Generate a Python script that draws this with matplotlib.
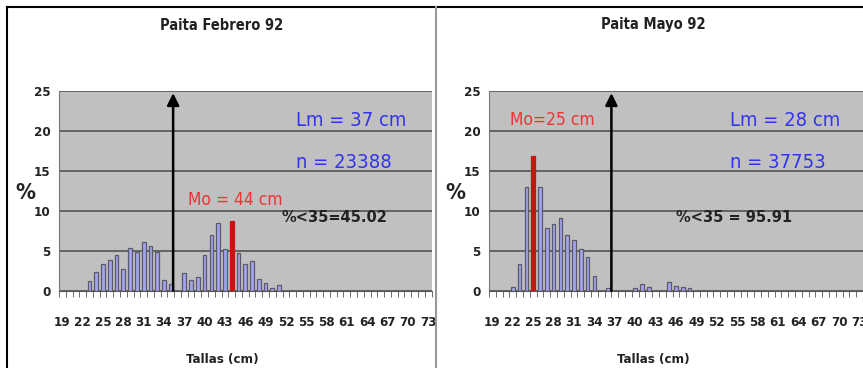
import numpy as np
import matplotlib
matplotlib.use("Agg")
import matplotlib.pyplot as plt
from matplotlib.lines import Line2D

# ─── DATA ──────────────────────────────────────────────────────────────
tallas = np.arange(19, 74)          # size classes (cm)
tick_labels = [str(t) for t in tallas[::3]]

# Paita Febrero 92 (% per size class)
feb_cls = [23, 24, 25, 26, 27, 28, 29, 30, 31, 32, 33, 34, 35,
           37, 38, 39, 40, 41, 42, 43, 44, 45, 46, 47, 48, 49, 50, 51]
feb_pct = [1.2, 2.3, 3.3, 3.8, 4.5, 2.75, 5.4, 4.9, 6.1, 5.6, 4.9, 1.3, 0.8,
           2.25, 1.3, 1.7, 4.5, 7.0, 8.5, 5.2, 8.75, 4.75, 3.3, 3.75, 1.5, 1.0, 0.4, 0.7]
feb_mode = 44

# Paita Mayo 92
may_cls = [22, 23, 24, 25, 26, 27, 28, 29, 30, 31, 32, 33, 34, 36,
           40, 41, 42, 45, 46, 47, 48]
may_pct = [0.5, 3.3, 13.0, 16.8, 13.0, 7.8, 8.3, 9.1, 7.0, 6.3, 5.25, 4.2, 1.8, 0.4,
           0.4, 0.9, 0.5, 1.1, 0.6, 0.5, 0.4]
may_mode = 25

panels = [
    dict(title="Paita Febrero 92", cls=feb_cls, pct=feb_pct, mode=feb_mode,
         arrow=35.35, lm="Lm = 37 cm", n="n = 23388", lm_xy=(53.5, 21.3), n_xy=(53.5, 16.0),
         mo="Mo = 44 cm", mo_xy=(37.6, 11.3), pc="%<35=45.02", pc_xy=(59.2, 9.2)),
    dict(title="Paita Mayo 92", cls=may_cls, pct=may_pct, mode=may_mode,
         arrow=36.5, lm="Lm = 28 cm", n="n = 37753", lm_xy=(53.9, 21.3), n_xy=(53.9, 16.0),
         mo="Mo=25 cm", mo_xy=(21.6, 21.3), pc="%<35 = 95.91", pc_xy=(54.5, 9.2)),
]

NARROW = dict(family="DejaVu Sans", stretch="condensed")
BAR_FC = "#a3a3ee"
BAR_EC = "#5a5a6a"
MODE_C = "#cc1111"
BLUE = "#3333ee"
RED = "#ee3333"
INK = "#222222"

fig = plt.figure(figsize=(8.63, 3.68), dpi=100)
W, H = 863, 368

def px_axes(x0, x1, ytop, ybot):
    return fig.add_axes([x0 / W, 1 - ybot / H, (x1 - x0) / W, (ybot - ytop) / H])

axes = [px_axes(59, 431.5, 90.7, 290.7), px_axes(489, 863, 90.7, 290.7)]
centers = [222, 653]

for ax, p, cx in zip(axes, panels, centers):
    ax.set_facecolor("#c0c0c0")
    ax.set_xlim(18.5, 73.5)
    ax.set_ylim(0, 25)
    ax.set_yticks([0, 5, 10, 15, 20, 25])
    ax.yaxis.grid(True, color="#4a4a4a", linewidth=1.1)
    ax.set_axisbelow(True)
    for s in ["top", "right"]:
        ax.spines[s].set_visible(False)
    ax.spines["left"].set_color("#777777")
    ax.spines["bottom"].set_color("#555555")

    colors = [MODE_C if c == p["mode"] else BAR_FC for c in p["cls"]]
    edges = [MODE_C if c == p["mode"] else BAR_EC for c in p["cls"]]
    widths = [0.65 if c == p["mode"] else 0.55 for c in p["cls"]]
    ax.bar(p["cls"], p["pct"], width=widths, color=colors, edgecolor=edges,
           linewidth=0.9, zorder=3)

    # x ticks: labels every 3 classes, small marks at each class boundary
    ax.set_xticks(tallas[::3])
    ax.set_xticklabels(tick_labels)
    ax.set_xticks(np.arange(18.5, 74, 1), minor=True)
    ax.tick_params(axis="x", which="major", length=0, pad=18)
    ax.tick_params(axis="x", which="minor", length=4, color="#555555", direction="out")
    ax.tick_params(axis="y", length=0, pad=6)
    for lab in ax.get_xticklabels() + ax.get_yticklabels():
        lab.set_family(NARROW["family"])
        lab.set_stretch("condensed")
        lab.set_fontsize(9.5)
        lab.set_fontweight("bold")
        lab.set_color(INK)

    ax.annotate("", xy=(p["arrow"], 24.7), xytext=(p["arrow"], 0),
                arrowprops=dict(arrowstyle="-|>", color="black", lw=1.8,
                                mutation_scale=18, shrinkA=0, shrinkB=0), zorder=5)

    ax.text(*p["lm_xy"], p["lm"], color=BLUE, fontsize=14.5, **NARROW,
            ha="left", va="center", zorder=6)
    ax.text(*p["n_xy"], p["n"], color=BLUE, fontsize=14.5, **NARROW,
            ha="left", va="center", zorder=6)
    ax.text(*p["mo_xy"], p["mo"], color=RED, fontsize=12.5, **NARROW,
            ha="left", va="center", zorder=6)
    ax.text(*p["pc_xy"], p["pc"], color=INK, fontsize=10.5, fontweight="bold",
            family="DejaVu Sans", ha="center", va="center", zorder=6)

    fig.text(cx / W, 1 - 25 / H, p["title"], ha="center", va="center",
             fontsize=10.5, fontweight="bold", **NARROW, color=INK)
    fig.text(cx / W, 1 - 359 / H, "Tallas (cm)", ha="center", va="center",
             fontsize=9.5, fontweight="bold", **NARROW, color=INK)

for x in (25, 455):
    fig.text(x / W, 1 - 193 / H, "%", ha="center", va="center", fontsize=16,
             fontweight="bold", **NARROW, color=INK)

# outer frame and panel divider
fig.add_artist(Line2D([7 / W, 1], [1 - 7 / H, 1 - 7 / H], color="black", lw=1.5))
fig.add_artist(Line2D([7 / W, 7 / W], [0, 1 - 7 / H], color="black", lw=1.5))
fig.add_artist(Line2D([436 / W, 436 / W], [0, 1 - 7 / H], color="#999999", lw=1.5))

fig.savefig("out.png", dpi=100)
